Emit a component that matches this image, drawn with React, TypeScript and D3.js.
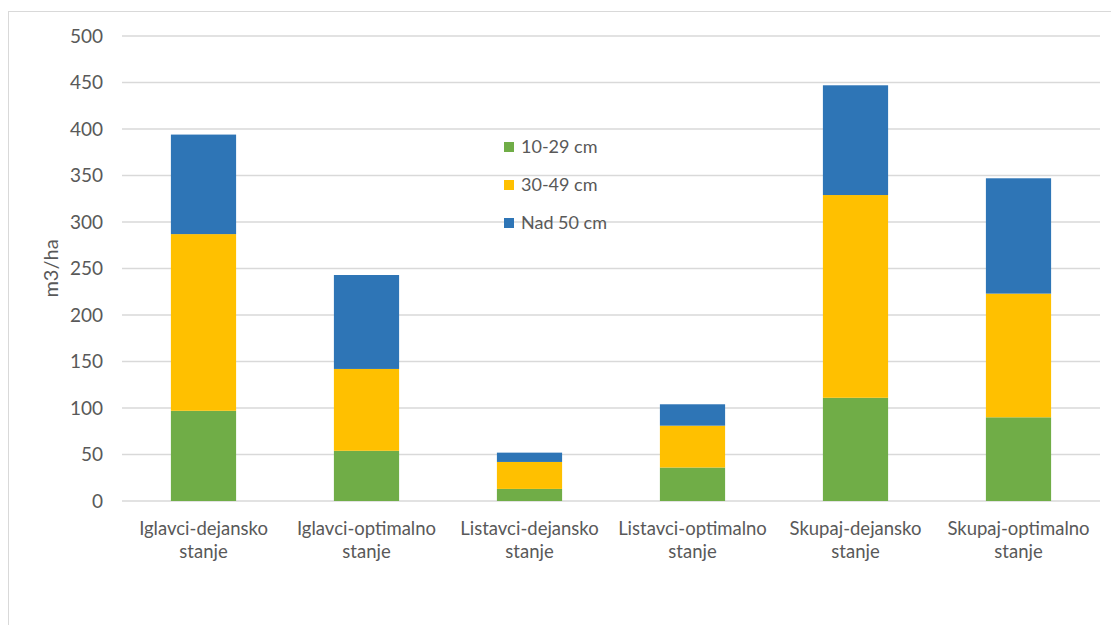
import React from "react";
import * as d3 from "d3";

const categories = [
  ["Iglavci-dejansko", "stanje"],
  ["Iglavci-optimalno", "stanje"],
  ["Listavci-dejansko", "stanje"],
  ["Listavci-optimalno", "stanje"],
  ["Skupaj-dejansko", "stanje"],
  ["Skupaj-optimalno", "stanje"],
];
const seriesNames = ["10-29 cm", "30-49 cm", "Nad 50 cm"];
const seriesColors = ["#70ad47", "#ffc000", "#2e75b6"];
const small = [97, 54, 13, 36, 111, 90];
const medium = [190, 88, 29, 45, 218, 133];
const large = [107, 101, 10, 23, 118, 124];
const yTicks = [0, 50, 100, 150, 200, 250, 300, 350, 400, 450, 500];

const W = 1111;
const H = 625;
const plot = { left: 122, right: 1100, top: 36, bottom: 501 };
const font = "Lato, 'Open Sans', sans-serif";
const textColor = "#595959";

export default function App() {
  const keys = categories.map((c) => c.join(" "));
  const rows = keys.map((k, i) => ({ key: k, s0: small[i], s1: medium[i], s2: large[i] }));
  const stack = d3.stack<any>().keys(["s0", "s1", "s2"])(rows);

  const x = d3
    .scaleBand<string>()
    .domain(keys)
    .range([plot.left, plot.right])
    .paddingInner(0.6)
    .paddingOuter(0.3);
  const y = d3.scaleLinear().domain([0, 500]).range([plot.bottom, plot.top]);

  return (
    <svg
      width={W}
      height={H}
      style={{ position: "absolute", left: 0, top: 0, background: "#fff" }}
      fontFamily={font}
    >
      <rect x={8.5} y={11.5} width={W + 10} height={H + 10} fill="#fff" stroke="#d9d9d9" strokeWidth={1} />

      {yTicks.map((t) => (
        <g key={t}>
          <line x1={plot.left} x2={plot.right} y1={y(t)} y2={y(t)} stroke="#d9d9d9" strokeWidth={1.5} />
          <text x={103} y={y(t)} dy="0.35em" textAnchor="end" fontSize={19} fill={textColor}>
            {t}
          </text>
        </g>
      ))}

      <text
        transform={`translate(58,${(plot.top + plot.bottom) / 2}) rotate(-90)`}
        textAnchor="middle"
        fontSize={20}
        fill={textColor}
      >
        m3/ha
      </text>

      {stack.map((layer, li) => (
        <g key={li} fill={seriesColors[li]}>
          {layer.map((d, i) => (
            <rect
              key={i}
              x={x(keys[i])}
              width={x.bandwidth()}
              y={y(d[1])}
              height={y(d[0]) - y(d[1])}
            />
          ))}
        </g>
      ))}

      {categories.map((c, i) => (
        <text
          key={i}
          x={(x(keys[i]) as number) + x.bandwidth() / 2}
          textAnchor="middle"
          fontSize={18.5}
          fill={textColor}
        >
          <tspan x={(x(keys[i]) as number) + x.bandwidth() / 2} y={535}>
            {c[0]}
          </tspan>
          <tspan x={(x(keys[i]) as number) + x.bandwidth() / 2} y={558}>
            {c[1]}
          </tspan>
        </text>
      ))}

      {seriesNames.map((n, i) => {
        const cy = 147 + i * 38;
        return (
          <g key={n}>
            <rect x={504} y={cy - 5} width={10} height={10} fill={seriesColors[i]} />
            <text x={521} y={cy} dy="0.35em" fontSize={18} fill={textColor}>
              {n}
            </text>
          </g>
        );
      })}
    </svg>
  );
}
